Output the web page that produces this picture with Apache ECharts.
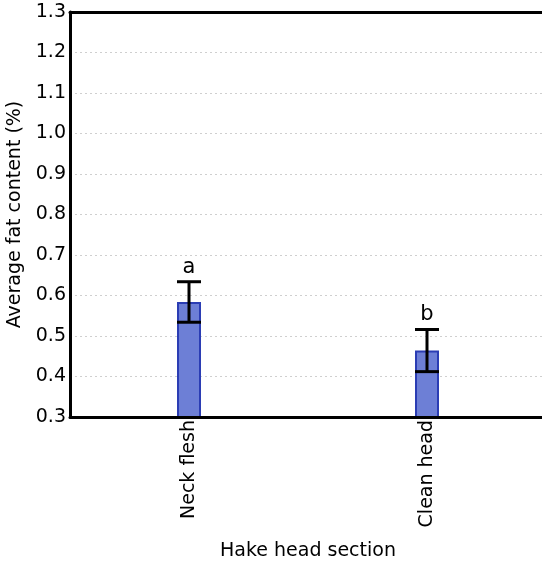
<!DOCTYPE html>
<html>
<head>
<meta charset="utf-8">
<script src="https://cdn.jsdelivr.net/npm/echarts@6/dist/echarts.min.js"></script>
<style>
html,body{margin:0;padding:0;background:#fff;}
#chart{width:542px;height:563px;}
</style>
</head>
<body>
<div id="chart"></div>
<script>
var categories = ['Neck flesh', 'Clean head'];
var means = [0.584, 0.464];
var errors = [0.050, 0.052];
var letters = ['a', 'b'];
var yTicks = [0.3, 0.4, 0.5, 0.6, 0.7, 0.8, 0.9, 1.0, 1.1, 1.2, 1.3];

var FONT = 'DejaVu Sans';
var chart = echarts.init(document.getElementById('chart'));

var errData = categories.map(function (c, i) {
  return [i, means[i] - errors[i], means[i] + errors[i], letters[i]];
});

chart.setOption({
  backgroundColor: '#fff',
  animation: false,
  grid: {
    left: 70, top: 12, right: -4, bottom: 146,
    outerBoundsMode: 'none',
    containLabel: false,
    show: false
  },
  xAxis: [{
    type: 'category',
    data: categories,
    name: 'Hake head section',
    nameLocation: 'middle',
    nameGap: 125,
    nameTextStyle: { fontFamily: FONT, fontSize: 19, color: '#000' },
    axisLine: { lineStyle: { color: '#000', width: 3 } },
    axisTick: { show: false },
    axisLabel: { rotate: 90, margin: 3, fontFamily: FONT, fontSize: 19, color: '#000' },
    splitLine: { show: false },
    z: 10
  }, {
    type: 'category',
    data: categories,
    position: 'top',
    axisLine: { show: true, onZero: false, lineStyle: { color: '#000', width: 3 } },
    axisTick: { show: false },
    axisLabel: { show: false },
    splitLine: { show: false },
    z: 10
  }],
  yAxis: {
    type: 'value',
    min: yTicks[0],
    max: yTicks[yTicks.length - 1],
    interval: 0.1,
    name: 'Average fat content (%)',
    nameLocation: 'middle',
    nameRotate: 90,
    nameGap: 43,
    nameTextStyle: { fontFamily: FONT, fontSize: 19, color: '#000' },
    axisLine: { show: true, lineStyle: { color: '#000', width: 3 } },
    axisTick: { show: false },
    axisLabel: {
      margin: 4, fontFamily: FONT, fontSize: 19, color: '#000',
      formatter: function (v) { return v.toFixed(1); }
    },
    splitLine: { show: true, lineStyle: { color: '#cfcfcf', width: 1, type: [2, 3] } }
  },
  series: [
    {
      type: 'bar',
      data: means,
      barWidth: 24,
      itemStyle: { color: '#6d7fd6', borderColor: '#2b3db4', borderWidth: 2 },
      z: 2
    },
    {
      type: 'custom',
      data: errData,
      z: 5,
      renderItem: function (params, api) {
        var x = api.value(0);
        var lo = api.coord([x, api.value(1)]);
        var hi = api.coord([x, api.value(2)]);
        var hw = 12;
        var style = { stroke: '#000', lineWidth: 3 };
        return {
          type: 'group',
          children: [
            { type: 'line', shape: { x1: lo[0], y1: lo[1], x2: hi[0], y2: hi[1] }, style: style },
            { type: 'line', shape: { x1: lo[0] - hw, y1: lo[1], x2: lo[0] + hw, y2: lo[1] }, style: style },
            { type: 'line', shape: { x1: hi[0] - hw, y1: hi[1], x2: hi[0] + hw, y2: hi[1] }, style: style },
            { type: 'text', style: {
                x: hi[0], y: hi[1] - 4, text: api.value(3),
                fontFamily: FONT, fontSize: 21, fill: '#000',
                align: 'center', verticalAlign: 'bottom'
              } }
          ]
        };
      }
    }
  ]
});
</script>
</body>
</html>
